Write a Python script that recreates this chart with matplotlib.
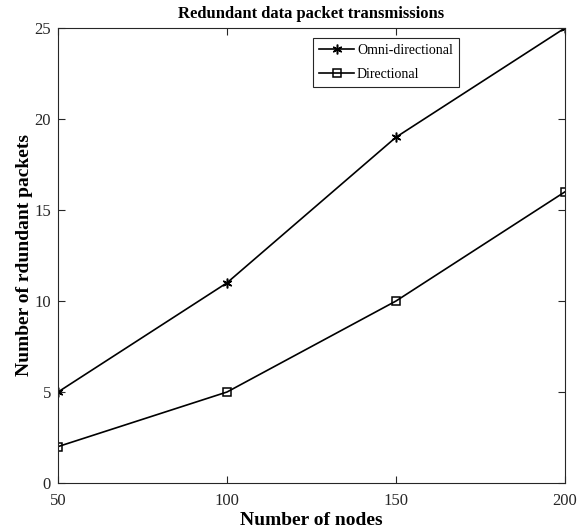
import matplotlib.pyplot as plt

plt.rcParams['font.family'] = ['Liberation Serif', 'DejaVu Serif']

nodes = [50, 100, 150, 200]
omni = [5, 11, 19, 25]
directional = [2, 5, 10, 16]

fig = plt.figure(figsize=(5.82, 5.28), dpi=100)
ax = fig.add_axes([0.0997, 0.0852, 0.8711, 0.8618])

ax.plot(nodes, omni, color='black', linewidth=1.2, marker=(6, 2, 0),
        markersize=7, markeredgewidth=1.1, label='Omni-directional')
ax.plot(nodes, directional, color='black', linewidth=1.2, marker='s',
        markersize=6, markerfacecolor='none', markeredgewidth=1.1,
        label='Directional')

ax.set_xlim(50, 200)
ax.set_ylim(0, 25)
ax.set_xticks([50, 100, 150, 200])
ax.set_yticks([0, 5, 10, 15, 20, 25])
ax.tick_params(direction='in', top=True, right=True, labelsize=12,
               colors='#262626', length=5)
ax.tick_params(axis='x', pad=7)
ax.tick_params(axis='y', pad=5)
for s in ax.spines.values():
    s.set_color('#262626')
    s.set_linewidth(0.8)

ax.set_xlabel('Number of nodes', fontsize=14, fontweight='bold', labelpad=2)
ax.set_ylabel('Number of rdundant packets', fontsize=14, fontweight='bold',
              labelpad=1)
ax.set_title('Redundant data packet transmissions', fontsize=12,
             fontweight='bold', pad=7)

leg = ax.legend(loc='upper right', bbox_to_anchor=(0.791, 0.978),
                borderaxespad=0, fontsize=10, fancybox=False,
                edgecolor='#262626', framealpha=1, handlelength=2.5,
                handletextpad=0.2, borderpad=0.45, labelspacing=0.75)
leg.get_frame().set_linewidth(0.8)

plt.savefig('out.png', dpi=100)
